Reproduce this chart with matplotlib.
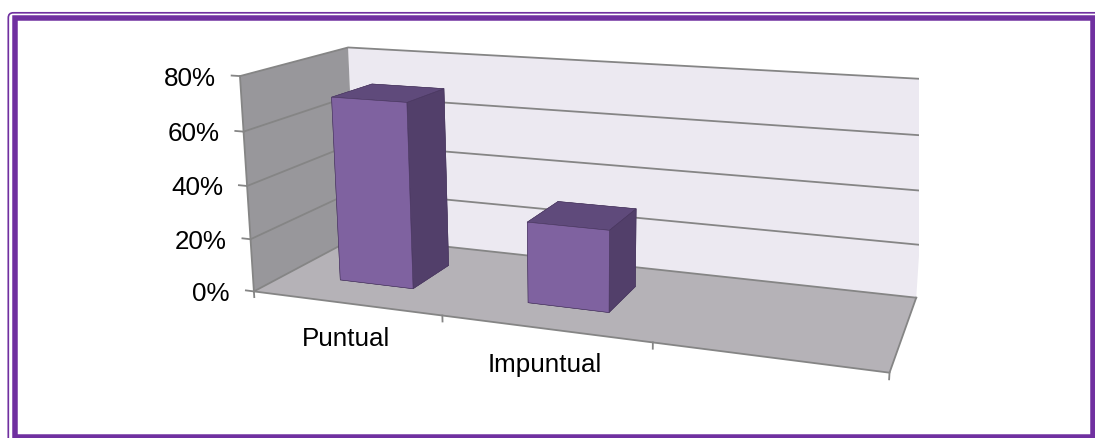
import numpy as np
import matplotlib
matplotlib.use("Agg")
import matplotlib.pyplot as plt
from matplotlib.patches import Rectangle, FancyBboxPatch
from mpl_toolkits.mplot3d import proj3d
from mpl_toolkits.mplot3d.art3d import Poly3DCollection

# ---- data ---------------------------------------------------------------
categories = ["Puntual", "Impuntual", ""]
shares = [0.70, 0.30, np.nan]
value_ticks = [0.0, 0.2, 0.4, 0.6, 0.8]
value_labels = ["0%", "20%", "40%", "60%", "80%"]

# ---- style --------------------------------------------------------------
plt.rcParams["font.family"] = ["Liberation Sans", "DejaVu Sans"]
PURPLE = "#7030A0"
BACK_WALL = "#ECE9F1"
SIDE_WALL = "#98979B"
FLOOR = "#B5B2B7"
GRID = "#858585"
BAR_FRONT = "#7F62A0"
BAR_SIDE = "#523F6A"
BAR_TOP = "#5F4A7B"
FS = 18.7

W, H = 1095, 438
fig = plt.figure(figsize=(W / 100, H / 100), dpi=100)

# square 3-D axes; the projected box centre sits at (cx, cy) px from top-left.
# mplot3d's 2-D view spans (-0.095, 0.09) in both directions, so the centre
# lies 51.35 % of the side from the left and from the bottom edge.
side = 691.6
cx, cy = 582.7, 188.4
frac = 0.095 / 0.185
ax = fig.add_axes([(cx - frac * side) / W, (H - (cy + frac * side)) / H,
                   side / W, side / H], projection="3d")
ax.set_axis_off()
ax.computed_zorder = False

n_cat = len(categories)
depth = 1.0
zmax = value_ticks[-1]

# walls and floor
walls = [
    ([(0, depth, 0), (n_cat, depth, 0), (n_cat, depth, zmax), (0, depth, zmax)], BACK_WALL),
    ([(0, 0, 0), (0, depth, 0), (0, depth, zmax), (0, 0, zmax)], SIDE_WALL),
    ([(0, 0, 0), (n_cat, 0, 0), (n_cat, depth, 0), (0, depth, 0)], FLOOR),
]
for verts, col in walls:
    ax.add_collection3d(Poly3DCollection([verts], facecolor=col, edgecolor="none", zorder=1))

# gridlines running along the side wall and the back wall
for z in value_ticks:
    ax.plot([0, 0, n_cat], [0, depth, depth], [z, z, z], color=GRID, lw=1.3, zorder=2)

# value axis line, floor front/right edges
ax.plot([0, 0], [0, 0], [0, zmax], color=GRID, lw=1.3, zorder=2)
ax.plot([0, n_cat, n_cat], [0, 0, depth], [0, 0, 0], color=GRID, lw=1.3, zorder=2)

# tick marks
tick_u = 0.045
tick_z = 0.022
for z in value_ticks:
    ax.plot([0, -tick_u], [0, 0], [z, z], color=GRID, lw=1.3, zorder=2)
for u in range(n_cat + 1):
    ax.plot([u, u], [0, 0], [0, -tick_z], color=GRID, lw=1.3, zorder=2)

# bars: faces ordered bottom, top, front, back, left, right
gap = 0.3
bx, by, bh, fcols = [], [], [], []
for i, v in enumerate(shares):
    if np.isnan(v):
        continue
    bx.append(i + gap)
    by.append(gap)
    bh.append(v)
    fcols += [BAR_SIDE, BAR_TOP, BAR_FRONT, BAR_SIDE, BAR_FRONT, BAR_SIDE]
bw = 1 - 2 * gap
ax.bar3d(bx, by, np.zeros(len(bx)), bw, bw, bh, color=fcols, shade=False,
         edgecolor="#4A3860", linewidth=0.4, zorder=3)

# view
ax.set_xlim(0, n_cat)
ax.set_ylim(0, depth)
ax.set_zlim(0, zmax)
ax.set_box_aspect((3, 0.989, 1.044))
ax.view_init(elev=14.23, azim=-70.08, roll=0)
ax.set_proj_type("persp", focal_length=0.3513)

M = ax.get_proj()

# value labels
for z, lab in zip(value_ticks, value_labels):
    px, py, _ = proj3d.proj_transform(0, 0, z, M)
    ax.annotate(lab, (px, py), xytext=(-24, -2.5), textcoords="offset pixels",
                ha="right", va="center", fontsize=FS, color="black", zorder=5)

# category labels
for i, lab in enumerate(categories):
    px, py, _ = proj3d.proj_transform(i + 0.5, 0, 0, M)
    ax.annotate(lab, (px, py), xytext=(0, -24), textcoords="offset pixels",
                ha="center", va="top", fontsize=FS, color="black", zorder=5)

# purple double frame
ov = fig.add_axes([0, 0, 1, 1], zorder=10)
ov.set_xlim(0, W)
ov.set_ylim(H, 0)
ov.axis("off")
ov.patch.set_alpha(0)
ov.add_patch(FancyBboxPatch((8.3, 12.8), 1110, 440,
                            boxstyle="round,pad=0,rounding_size=5",
                            fill=False, ec=PURPLE, lw=1.7 * 0.72))
ov.add_patch(Rectangle((14.5, 18.3), 1093 - 14.5, 437 - 18.3,
                       fill=False, ec=PURPLE, lw=5.5 * 0.72))

fig.savefig("out.png", dpi=100)
